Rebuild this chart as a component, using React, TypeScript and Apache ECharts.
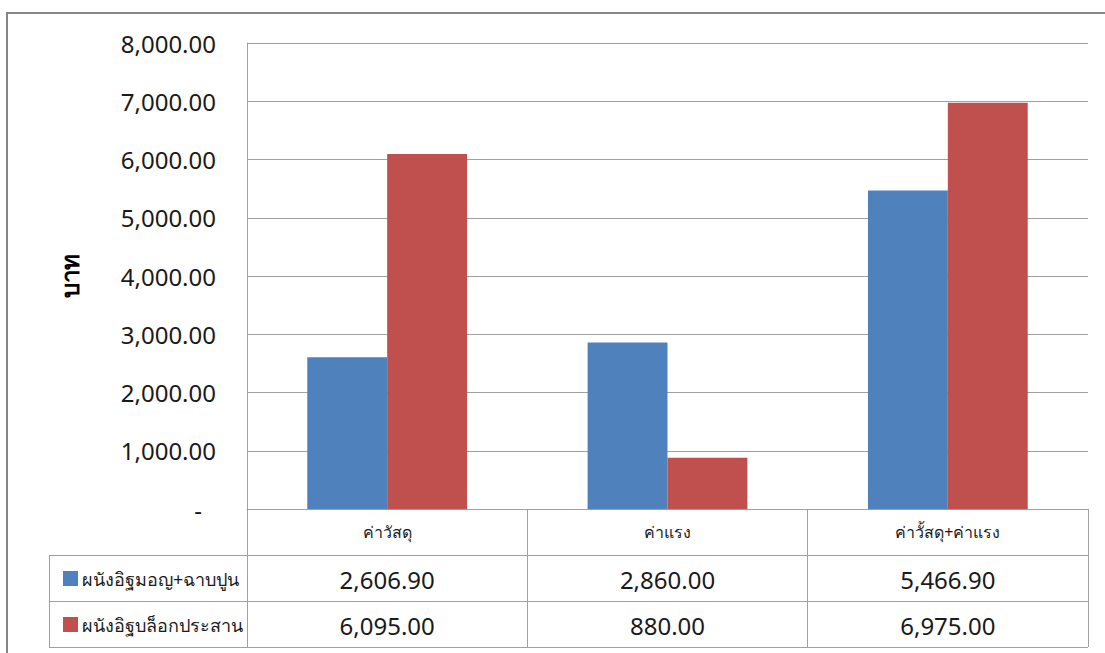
import React, { useEffect, useRef } from "react";
import * as echarts from "echarts";

// Cost comparison of two wall types (baht)
const categories = ["ค่าวัสดุ", "ค่าแรง", "ค่าวั้สดุ+ค่าแรง"];
const seriesNames = ["ผนังอิฐมอญ+ฉาบปูน", "ผนังอิฐบล็อกประสาน"];
const brickPlaster = [2606.9, 2860.0, 5466.9];
const interlockBlock = [6095.0, 880.0, 6975.0];
const seriesColors = ["#4F81BD", "#C0504D"];

const FONT = "'Noto Sans', 'DejaVu Sans', sans-serif";
const GRID_COLOR = "#A0A0A0";
const TEXT_COLOR = "#1a1a1a";

const fmt = (v: number) =>
  v.toLocaleString("en-US", { minimumFractionDigits: 2, maximumFractionDigits: 2 });

export default function App() {
  const ref = useRef<HTMLDivElement>(null);

  useEffect(() => {
    document.body.style.margin = "0";
    if (!ref.current) return;
    const chart = echarts.init(ref.current, undefined, { renderer: "svg" });

    const gridLeft = 247;
    const gridTop = 43;
    const gridRight = 17;
    const gridBottom = 144;
    const W = 1105;
    const H = 653;
    const axisY = H - gridBottom;
    const row1 = 555;
    const row2 = 601;
    const row3 = 647;
    const tableLeft = 49;
    const tableRight = W - gridRight;

    chart.setOption({
      animation: false,
      backgroundColor: "#fff",
      grid: { left: gridLeft, top: gridTop, right: gridRight, bottom: gridBottom },
      xAxis: {
        type: "category",
        data: categories,
        axisLine: { lineStyle: { color: GRID_COLOR, width: 1 } },
        axisTick: {
          show: true,
          length: row3 - axisY,
          lineStyle: { color: GRID_COLOR, width: 1 },
        },
        axisLabel: {
          margin: 13,
          fontFamily: FONT,
          fontSize: 16,
          lineHeight: 20,
          color: TEXT_COLOR,
        },
      },
      yAxis: {
        type: "value",
        min: 0,
        max: 8000,
        interval: 1000,
        name: "บาท",
        nameLocation: "middle",
        nameRotate: 90,
        nameGap: 166,
        nameTextStyle: { fontFamily: FONT, fontSize: 24, fontWeight: "bold", color: "#000" },
        axisLine: { show: true, lineStyle: { color: GRID_COLOR, width: 1 } },
        axisTick: { show: false },
        splitLine: { lineStyle: { color: GRID_COLOR, width: 1 } },
        axisLabel: {
          margin: 31,
          fontFamily: FONT,
          fontSize: 24,
          color: TEXT_COLOR,
          formatter: (v: number) => (v === 0 ? "{d|-}" : fmt(v)),
          rich: { d: { fontFamily: FONT, fontSize: 24, padding: [0, 14, 0, 0], color: TEXT_COLOR } },
        },
      },
      series: [
        {
          name: seriesNames[0],
          type: "bar",
          data: brickPlaster,
          itemStyle: { color: seriesColors[0] },
          barGap: "0%",
          barCategoryGap: "43%",
        },
        {
          name: seriesNames[1],
          type: "bar",
          data: interlockBlock,
          itemStyle: { color: seriesColors[1] },
          barGap: "0%",
          barCategoryGap: "43%",
        },
      ],
    });

    // Data table beneath the plot, aligned to the category axis
    const rows = [brickPlaster, interlockBlock];
    const rowTops = [row1, row2];
    const rowH = [row2 - row1, row3 - row2];
    const graphics: any[] = [
      // outer chart frame (left and top edges)
      {
        type: "rect",
        shape: { x: 7, y: 13, width: 1400, height: 900 },
        style: { fill: "none", stroke: "#858585", lineWidth: 2 },
        silent: true,
      },
    ];
    [row1, row2, row3].forEach((y) => {
      graphics.push({
        type: "line",
        shape: { x1: tableLeft, y1: y + 0.5, x2: tableRight, y2: y + 0.5 },
        style: { stroke: GRID_COLOR, lineWidth: 1 },
        silent: true,
      });
    });
    graphics.push({
      type: "line",
      shape: { x1: tableLeft + 0.5, y1: row1, x2: tableLeft + 0.5, y2: row3 },
      style: { stroke: GRID_COLOR, lineWidth: 1 },
      silent: true,
    });
    rows.forEach((vals, r) => {
      const cy = rowTops[r] + rowH[r] / 2 + 1;
      graphics.push({
        type: "rect",
        shape: { x: 63, y: cy - 8, width: 15, height: 15 },
        style: { fill: seriesColors[r] },
        silent: true,
      });
      graphics.push({
        type: "text",
        x: 82,
        y: cy,
        style: {
          text: seriesNames[r],
          fontFamily: FONT,
          fontSize: 18,
          fill: TEXT_COLOR,
          verticalAlign: "middle",
          align: "left",
        },
        silent: true,
      });
      vals.forEach((v, i) => {
        const px = chart.convertToPixel({ xAxisIndex: 0 }, i) as number;
        graphics.push({
          type: "text",
          x: px,
          y: cy,
          style: {
            text: fmt(v),
            fontFamily: FONT,
            fontSize: 24,
            fill: TEXT_COLOR,
            align: "center",
            verticalAlign: "middle",
          },
          silent: true,
        });
      });
    });

    chart.setOption({ graphic: graphics });

    return () => chart.dispose();
  }, []);

  return <div ref={ref} style={{ width: 1105, height: 653 }} />;
}
